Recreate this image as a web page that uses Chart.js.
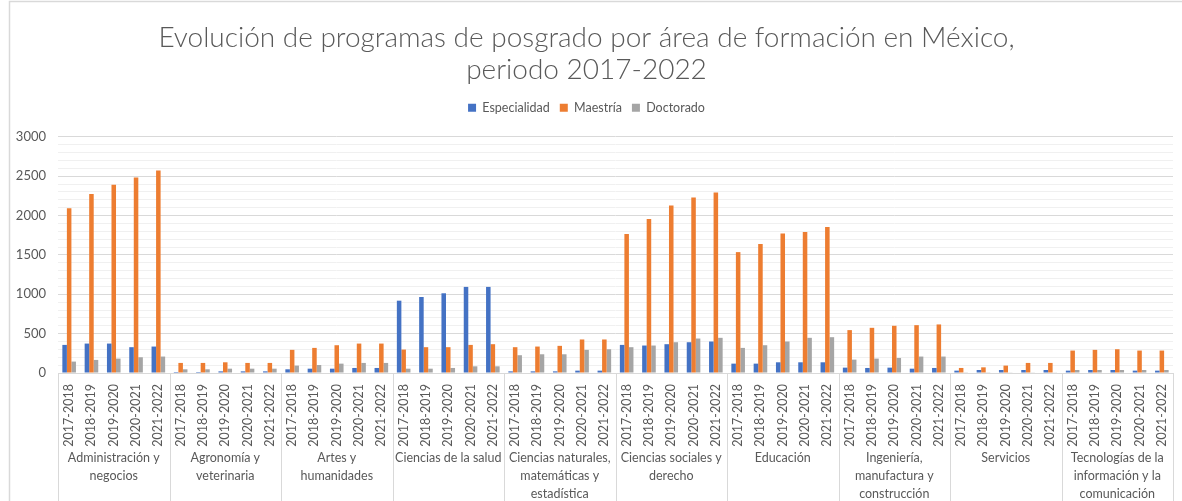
<!DOCTYPE html>
<html>
<head>
<meta charset="utf-8">
<script src="https://cdn.jsdelivr.net/npm/chart.js@4/dist/chart.umd.min.js"></script>
<style>
  html, body { margin: 0; padding: 0; background: #fff; }
  #wrap { width: 1182px; height: 501px; position: relative; }
</style>
</head>
<body>
<div id="wrap"><canvas id="posgradoChart" width="1182" height="501"></canvas></div>
<script>
// areas de formacion (cada una partida en lineas como en la grafica)
var areas = [
  ['Administración y', 'negocios'],
  ['Agronomía y', 'veterinaria'],
  ['Artes y', 'humanidades'],
  ['Ciencias de la salud'],
  ['Ciencias naturales,', 'matemáticas y', 'estadística'],
  ['Ciencias sociales y', 'derecho'],
  ['Educación'],
  ['Ingeniería,', 'manufactura y', 'construcción'],
  ['Servicios'],
  ['Tecnologías de la', 'información y la', 'comunicación']
]
var periodos = ['2017-2018', '2018-2019', '2019-2020', '2020-2021', '2021-2022']
var yTicks = [0, 500, 1000, 1500, 2000, 2500, 3000]

// 5 valores por area, en el orden de "areas"
var especialidad = [
  357, 374, 374, 328, 336,
  13, 13, 21, 21, 21,
  47, 55, 55, 64, 64,
  919, 966, 1013, 1094, 1094,
  21, 21, 21, 30, 30,
  357, 349, 366, 391, 400,
  119, 119, 136, 136, 136,
  68, 64, 68, 55, 64,
  30, 38, 38, 38, 38,
  30, 38, 38, 30, 30
]
var maestria = [
  2093, 2276, 2391, 2485, 2574,
  128, 128, 136, 128, 128,
  294, 319, 353, 374, 374,
  298, 328, 328, 357, 366,
  328, 336, 345, 426, 426,
  1766, 1957, 2128, 2230, 2293,
  1536, 1638, 1774, 1791, 1855,
  545, 574, 600, 608, 617,
  64, 72, 94, 128, 128,
  285, 294, 302, 285, 285
]
var doctorado = [
  145, 166, 183, 200, 209,
  47, 47, 55, 55, 55,
  94, 102, 119, 128, 128,
  55, 55, 64, 85, 85,
  226, 238, 238, 294, 302,
  328, 349, 391, 438, 447,
  319, 353, 400, 447, 455,
  170, 183, 191, 209, 209,
  4, 4, 8, 8, 8,
  38, 38, 38, 38, 38
]

var labels = []
areas.forEach(a => {
  periodos.forEach(p => labels.push(p))
})

var gris = '#595959'
var fuente = 'Lato, "Open Sans", sans-serif'

// marco del grafico (como el recuadro de Excel)
const marco = {
  id: 'marco',
  beforeDraw(chart) {
    const c = chart.ctx
    c.save()
    c.strokeStyle = '#d9d9d9'
    c.lineWidth = 1.5
    c.beginPath()
    c.moveTo(9.5, chart.height)
    c.lineTo(9.5, 1.5)
    c.lineTo(chart.width, 1.5)
    c.stroke()
    c.restore()
  }
}

// mas espacio entre la leyenda y el area de trazado
const espacioLeyenda = {
  id: 'espacioLeyenda',
  beforeInit(chart) {
    const fit = chart.legend.fit
    chart.legend.fit = function () {
      fit.bind(chart.legend)()
      this.height += 13
    }
  }
}

// etiquetas de area debajo de los periodos + separadores
const gruposEje = {
  id: 'gruposEje',
  afterDraw(chart) {
    const x = chart.scales.x
    const c = chart.ctx
    const paso = x.getPixelForValue(1) - x.getPixelForValue(0)
    const top = chart.chartArea.bottom
    c.save()
    c.strokeStyle = '#d9d9d9'
    c.lineWidth = 1
    c.fillStyle = gris
    c.font = '12.5px ' + fuente
    c.textAlign = 'center'
    c.textBaseline = 'middle'
    areas.forEach((lineas, g) => {
      const izq = x.getPixelForValue(g * periodos.length) - paso / 2
      const der = x.getPixelForValue((g + 1) * periodos.length - 1) + paso / 2
      c.beginPath()
      c.moveTo(Math.round(izq) + 0.5, top)
      c.lineTo(Math.round(izq) + 0.5, chart.height)
      if (g === areas.length - 1) {
        c.moveTo(Math.round(der) + 0.5, top)
        c.lineTo(Math.round(der) + 0.5, chart.height)
      }
      c.stroke()
      lineas.forEach((t, i) => {
        c.fillText(t, (izq + der) / 2, top + 85 + i * 18)
      })
    })
    c.restore()
  }
}

var ctx = document.getElementById('posgradoChart').getContext('2d')
var chart = new Chart(ctx, {
  type: 'bar',
  data: {
    labels: labels,
    datasets: [
      { label: 'Especialidad', data: especialidad, backgroundColor: '#4472C4' },
      { label: 'Maestría', data: maestria, backgroundColor: '#ED7D31' },
      { label: 'Doctorado', data: doctorado, backgroundColor: '#A5A5A5' }
    ]
  },
  plugins: [marco, espacioLeyenda, gruposEje],
  options: {
    responsive: false,
    animation: false,
    layout: { padding: { left: 0, right: 9, top: 0, bottom: 0 } },
    datasets: {
      bar: { categoryPercentage: 0.61, barPercentage: 1 }
    },
    plugins: {
      title: {
        display: true,
        text: ['Evolución de programas de posgrado por área de formación en México,', 'periodo 2017-2022'],
        color: gris,
        font: { family: fuente, size: 28, weight: '300', lineHeight: 1.15 },
        padding: { top: 22, bottom: 5 }
      },
      legend: {
        display: true,
        labels: {
          color: gris,
          font: { family: fuente, size: 12.5 },
          boxWidth: 8,
          boxHeight: 8,
          padding: 10
        }
      },
      tooltip: { enabled: false }
    },
    scales: {
      x: {
        grid: { display: false },
        border: { display: true, color: '#d9d9d9' },
        ticks: {
          autoSkip: false,
          minRotation: 90,
          maxRotation: 90,
          padding: 3,
          color: gris,
          font: { family: fuente, size: 12.5 }
        },
        afterFit(scale) { scale.height = 128 }
      },
      y: {
        min: 0,
        max: 3000,
        border: { display: false },
        grid: {
          drawTicks: false,
          color: c => (c.tick.value % 500 === 0 ? '#d9d9d9' : '#f0f0f0')
        },
        ticks: {
          stepSize: 100,
          autoSkip: false,
          padding: 12,
          color: gris,
          font: { family: fuente, size: 13 },
          callback: v => (yTicks.indexOf(v) >= 0 ? v : '')
        },
        afterFit(scale) { scale.width = 58 }
      }
    }
  }
})
</script>
</body>
</html>
